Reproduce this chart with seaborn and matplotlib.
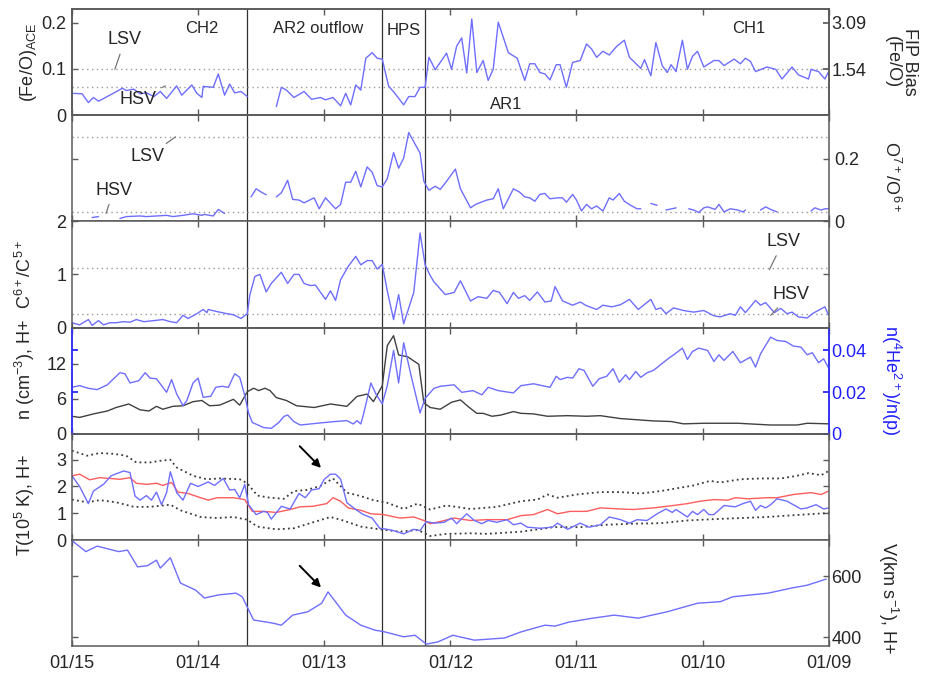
import numpy as np
import pandas as pd
import matplotlib
matplotlib.use("Agg")
import matplotlib.pyplot as plt
import seaborn as sns

# ---------- Data (day of January) ----------

nan = np.nan

feo_t = [15.00, 14.92, 14.87, 14.83, 14.79, 14.70, 14.60, 14.57, 14.51, 14.46, 14.41, 14.35, 14.30, 14.25,
         14.17, 14.13, 14.05, 14.01, 13.97, 13.96, 13.88, 13.84, 13.79, 13.75, 13.71, 13.66, 13.61, 13.50,
         13.38, 13.34, 13.30, 13.24, 13.16, 13.10, 13.03, 12.99, 12.93, 12.87, 12.83, 12.79, 12.75, 12.71,
         12.67, 12.62, 12.58, 12.54, 12.49, 12.44, 12.37, 12.33, 12.28, 12.24, 12.20, 12.17, 12.12, 12.03,
         11.99, 11.95, 11.91, 11.87, 11.83, 11.79, 11.74, 11.70, 11.66, 11.62, 11.54, 11.47, 11.41, 11.37,
         11.33, 11.29, 11.25, 11.21, 11.16, 11.13, 11.08, 11.03, 10.97, 10.92, 10.88, 10.84, 10.79, 10.74,
         10.68, 10.62, 10.58, 10.49, 10.46, 10.41, 10.37, 10.32, 10.28, 10.25, 10.21, 10.16, 10.12, 10.08,
         10.04, 9.99, 9.91, 9.87, 9.83, 9.75, 9.70, 9.66, 9.62, 9.58, 9.49, 9.42, 9.37, 9.29, 9.24, 9.16,
         9.14, 9.08, 9.03, 9.00]
feo_v = [0.047, 0.046, 0.027, 0.038, 0.030, 0.043, 0.058, 0.053, 0.056, 0.046, 0.048, 0.040, 0.051, 0.036,
         0.063, 0.043, 0.065, 0.047, 0.038, 0.062, 0.060, 0.089, 0.043, 0.067, 0.048, 0.051, 0.040, nan,
         0.018, 0.060, 0.054, 0.038, 0.051, 0.034, 0.038, 0.033, 0.038, 0.020, 0.047, 0.022, 0.065, 0.054,
         0.123, 0.135, 0.123, 0.121, 0.063, 0.047, 0.022, 0.040, 0.040, 0.060, 0.060, 0.125, 0.098, 0.134,
         0.099, 0.149, 0.167, 0.091, 0.208, 0.092, 0.118, 0.075, 0.099, 0.201, 0.135, 0.123, 0.075, 0.111,
         0.111, 0.092, 0.089, 0.076, 0.109, 0.109, 0.060, 0.114, 0.118, 0.154, 0.143, 0.125, 0.138, 0.130,
         0.149, 0.162, 0.125, 0.101, 0.120, 0.085, 0.157, 0.107, 0.092, 0.109, 0.094, 0.162, 0.099, 0.127,
         0.138, 0.104, 0.118, 0.118, 0.107, 0.121, 0.111, 0.123, 0.116, 0.094, 0.104, 0.099, 0.078, 0.104,
         0.087, 0.078, 0.099, 0.094, 0.078, 0.094]

oxy_t = [14.84, 14.79, 14.75, 14.62, 14.57, 14.46, 14.41, 14.25, 14.20, 14.12, 14.04, 13.97, 13.95, 13.88,
         13.84, 13.79, 13.70, 13.58, 13.54, 13.49, 13.46, 13.42, 13.38, 13.34, 13.29, 13.25, 13.20, 13.16,
         13.08, 13.04, 12.99, 12.91, 12.87, 12.83, 12.79, 12.75, 12.71, 12.66, 12.62, 12.58, 12.54, 12.50,
         12.45, 12.41, 12.37, 12.33, 12.24, 12.21, 12.17, 12.12, 12.08, 12.03, 11.96, 11.92, 11.84, 11.80,
         11.71, 11.66, 11.62, 11.58, 11.54, 11.50, 11.45, 11.41, 11.37, 11.33, 11.29, 11.25, 11.21, 11.15,
         11.11, 11.08, 11.03, 11.00, 10.96, 10.92, 10.88, 10.84, 10.79, 10.74, 10.71, 10.66, 10.62, 10.57,
         10.52, 10.49, 10.45, 10.41, 10.36, 10.33, 10.29, 10.21, 10.17, 10.11, 10.07, 10.03, 9.99, 9.96,
         9.90, 9.87, 9.83, 9.78, 9.72, 9.68, 9.66, 9.60, 9.54, 9.50, 9.46, 9.41, 9.30, 9.14, 9.11, 9.06,
         9.03, 9.00]
oxy_v = [0.012, 0.015, nan, 0.009, 0.015, 0.017, 0.015, 0.019, 0.015, 0.019, 0.024, 0.019, 0.022, 0.017,
         0.038, 0.025, nan, 0.078, 0.104, 0.091, 0.085, nan, 0.078, 0.091, 0.131, 0.070, 0.068, 0.059,
         0.075, 0.040, 0.075, 0.040, 0.054, 0.125, 0.125, 0.160, 0.110, 0.174, 0.157, 0.114, 0.110, 0.136,
         0.220, 0.170, 0.202, 0.284, 0.218, 0.128, 0.099, 0.112, 0.102, 0.128, 0.167, 0.104, 0.043, 0.054,
         0.068, 0.072, 0.104, 0.040, 0.072, 0.104, 0.093, 0.078, 0.075, 0.064, 0.086, 0.089, 0.072, 0.075,
         0.075, 0.061, 0.086, 0.068, 0.033, 0.054, 0.040, 0.049, 0.033, 0.075, 0.068, 0.089, 0.064, 0.051,
         0.040, 0.040, nan, 0.057, 0.051, nan, 0.036, 0.043, nan, 0.040, 0.036, 0.028, 0.043, 0.046,
         0.038, 0.054, 0.030, 0.040, 0.036, 0.030, 0.036, nan, 0.036, 0.046, 0.038, 0.030, nan, 0.033,
         0.043, 0.036, 0.040, 0.040]

carb_t = [15.00, 14.94, 14.87, 14.84, 14.79, 14.75, 14.70, 14.65, 14.59, 14.54, 14.49, 14.43, 14.35, 14.28,
          14.22, 14.17, 14.12, 14.08, 14.01, 13.96, 13.93, 13.92, 13.85, 13.77, 13.72, 13.66, 13.61, 13.59,
          13.55, 13.51, 13.46, 13.42, 13.34, 13.29, 13.24, 13.20, 13.16, 13.11, 13.07, 12.99, 12.95, 12.91,
          12.87, 12.81, 12.75, 12.71, 12.66, 12.62, 12.58, 12.54, 12.50, 12.45, 12.41, 12.37, 12.29, 12.24,
          12.20, 12.16, 12.13, 12.04, 11.97, 11.92, 11.84, 11.78, 11.71, 11.66, 11.61, 11.55, 11.50, 11.46,
          11.41, 11.37, 11.31, 11.25, 11.20, 11.17, 11.11, 11.03, 10.97, 10.92, 10.84, 10.79, 10.72, 10.65,
          10.58, 10.51, 10.41, 10.37, 10.33, 10.29, 10.23, 10.15, 10.07, 9.99, 9.91, 9.86, 9.78, 9.74,
          9.70, 9.66, 9.58, 9.54, 9.50, 9.43, 9.38, 9.33, 9.29, 9.24, 9.17, 9.13, 9.03, 9.00]
carb_v = [0.09, 0.05, 0.15, 0.04, 0.13, 0.05, 0.09, 0.09, 0.11, 0.10, 0.15, 0.11, 0.13, 0.15,
          0.11, 0.09, 0.23, 0.17, 0.26, 0.34, 0.28, 0.34, 0.30, 0.26, 0.24, 0.17, 0.26, 0.61,
          0.96, 1.00, 0.67, 0.83, 1.04, 0.83, 1.00, 1.00, 0.83, 0.79, 0.80, 0.53, 0.69, 0.51,
          0.90, 1.15, 1.34, 1.18, 1.26, 1.26, 1.10, 1.19, 0.69, 0.15, 0.62, 0.07, 0.66, 1.78,
          1.18, 0.98, 0.86, 0.62, 0.66, 0.88, 0.50, 0.58, 0.55, 0.70, 0.66, 0.45, 0.66, 0.55,
          0.60, 0.51, 0.67, 0.48, 0.50, 0.77, 0.50, 0.42, 0.48, 0.41, 0.34, 0.42, 0.39, 0.43,
          0.53, 0.34, 0.53, 0.34, 0.37, 0.26, 0.37, 0.32, 0.29, 0.32, 0.22, 0.20, 0.26, 0.23,
          0.39, 0.28, 0.51, 0.42, 0.47, 0.28, 0.36, 0.26, 0.29, 0.20, 0.18, 0.26, 0.39, 0.23]

dens_t = [15.00, 14.94, 14.83, 14.72, 14.65, 14.55, 14.46, 14.39, 14.33, 14.28, 14.20, 14.12, 14.04, 13.97,
          13.91, 13.83, 13.72, 13.67, 13.61, 13.56, 13.52, 13.47, 13.43, 13.38, 13.30, 13.22, 13.08, 12.95,
          12.82, 12.74, 12.66, 12.61, 12.54, 12.50, 12.45, 12.41, 12.34, 12.25, 12.21, 12.16, 12.08, 11.99,
          11.92, 11.85, 11.79, 11.74, 11.67, 11.60, 11.50, 11.44, 11.34, 11.23, 11.07, 10.92, 10.81, 10.65,
          10.39, 10.25, 10.15, 9.99, 9.72, 9.46, 9.25, 9.17, 9.00]
dens_v = [3.0, 2.8, 3.4, 3.9, 4.5, 5.1, 4.1, 3.9, 4.7, 4.2, 4.7, 4.8, 5.5, 5.7,
          4.8, 4.9, 5.9, 4.9, 7.2, 7.8, 7.4, 7.8, 7.4, 6.2, 5.7, 4.8, 4.5, 5.1,
          4.7, 6.4, 6.8, 5.5, 8.2, 15.1, 16.8, 13.5, 13.2, 11.9, 5.3, 4.5, 4.2, 5.4,
          5.8, 4.5, 3.5, 3.5, 3.0, 3.2, 3.8, 3.5, 3.4, 3.0, 3.1, 3.0, 3.1, 2.6,
          2.2, 2.1, 1.7, 1.8, 1.8, 1.5, 1.5, 1.8, 1.7]

alpha_t = [15.00, 14.94, 14.87, 14.80, 14.72, 14.62, 14.58, 14.54, 14.47, 14.42, 14.38, 14.33, 14.25, 14.21,
           14.17, 14.12, 14.09, 14.04, 14.00, 13.96, 13.90, 13.86, 13.81, 13.76, 13.71, 13.67, 13.63, 13.60,
           13.57, 13.48, 13.42, 13.36, 13.32, 13.29, 13.24, 13.19, 13.03, 12.93, 12.82, 12.77, 12.74, 12.71,
           12.69, 12.63, 12.59, 12.54, 12.50, 12.45, 12.41, 12.37, 12.31, 12.24, 12.20, 12.13, 12.08, 11.97,
           11.91, 11.82, 11.75, 11.70, 11.62, 11.50, 11.44, 11.34, 11.21, 11.16, 11.13, 11.07, 11.03, 10.98,
           10.94, 10.87, 10.82, 10.76, 10.71, 10.66, 10.61, 10.58, 10.53, 10.49, 10.44, 10.39, 10.28, 10.20,
           10.16, 10.12, 10.08, 10.03, 9.96, 9.91, 9.87, 9.83, 9.76, 9.70, 9.62, 9.58, 9.54, 9.46, 9.41,
           9.34, 9.28, 9.22, 9.17, 9.13, 9.08, 9.04, 9.00]
alpha_v = [0.0223, 0.0231, 0.0218, 0.0212, 0.0235, 0.0293, 0.0288, 0.0244, 0.0255, 0.0293, 0.0267, 0.0264,
           0.0199, 0.0260, 0.0191, 0.0135, 0.0159, 0.0244, 0.0267, 0.0175, 0.0180, 0.0223, 0.0228, 0.0223,
           0.0288, 0.0271, 0.0183, 0.0100, 0.0054, 0.0030, 0.0026, 0.0054, 0.0083, 0.0090, 0.0058, 0.0042,
           0.0052, 0.0058, 0.0063, 0.0047, 0.0063, 0.0047, 0.0090, 0.0244, 0.0191, 0.0143, 0.0231, 0.0400,
           0.0244, 0.0437, 0.0276, 0.0100, 0.0170, 0.0218, 0.0228, 0.0235, 0.0199, 0.0207, 0.0187, 0.0223,
           0.0207, 0.0196, 0.0231, 0.0240, 0.0223, 0.0276, 0.0260, 0.0271, 0.0267, 0.0312, 0.0304, 0.0228,
           0.0264, 0.0276, 0.0312, 0.0247, 0.0283, 0.0260, 0.0299, 0.0271, 0.0293, 0.0304, 0.0357, 0.0392,
           0.0411, 0.0357, 0.0395, 0.0411, 0.0400, 0.0347, 0.0379, 0.0352, 0.0395, 0.0341, 0.0368, 0.0320,
           0.0384, 0.0464, 0.0448, 0.0443, 0.0421, 0.0416, 0.0379, 0.0389, 0.0341, 0.0360, 0.0315]

temp_t = [15.00, 14.94, 14.87, 14.83, 14.75, 14.69, 14.59, 14.54, 14.50, 14.46, 14.41, 14.37, 14.33, 14.29,
          14.25, 14.22, 14.17, 14.12, 14.06, 14.00, 13.92, 13.87, 13.80, 13.75, 13.71, 13.67, 13.63, 13.60,
          13.54, 13.48, 13.45, 13.42, 13.34, 13.27, 13.20, 13.15, 13.10, 13.04, 13.00, 12.95, 12.91, 12.87,
          12.82, 12.75, 12.69, 12.62, 12.56, 12.50, 12.45, 12.37, 12.29, 12.24, 12.19, 12.13, 12.05, 11.99,
          11.95, 11.87, 11.81, 11.75, 11.70, 11.63, 11.55, 11.50, 11.44, 11.39, 11.29, 11.19, 11.15, 11.07,
          10.97, 10.90, 10.81, 10.74, 10.65, 10.58, 10.52, 10.44, 10.36, 10.29, 10.24, 10.21, 10.12, 10.08,
          10.04, 9.99, 9.95, 9.91, 9.83, 9.74, 9.68, 9.62, 9.58, 9.54, 9.50, 9.46, 9.41, 9.33, 9.22, 9.17,
          9.10, 9.04, 9.00]
temp_v = [2.40, 2.00, 1.36, 1.83, 2.08, 2.40, 2.58, 2.52, 1.64, 1.49, 1.66, 1.49, 1.79, 1.32,
          1.77, 2.55, 1.77, 1.49, 2.12, 2.00, 2.17, 2.04, 2.30, 1.87, 1.89, 1.58, 2.08, 1.32,
          0.95, 1.07, 1.03, 0.78, 1.26, 1.16, 1.74, 1.58, 1.87, 1.92, 2.27, 2.46, 2.46, 2.27,
          1.39, 1.14, 0.95, 0.82, 0.44, 0.40, 0.35, 0.23, 0.40, 0.35, 0.69, 0.63, 0.66, 0.82,
          0.61, 0.98, 0.73, 0.61, 0.73, 0.66, 0.76, 0.57, 0.63, 0.48, 0.44, 0.48, 0.63, 0.40,
          0.63, 0.48, 0.57, 0.86, 0.76, 0.63, 0.76, 0.73, 0.98, 1.16, 1.03, 1.14, 0.86, 1.07,
          0.95, 1.14, 0.95, 0.95, 1.29, 1.24, 1.36, 1.45, 1.11, 1.29, 1.20, 1.32, 1.54, 1.45, 1.16, 1.20,
          1.32, 1.16, 1.20]

texp_t = [15.00, 14.94, 14.86, 14.78, 14.70, 14.62, 14.54, 14.49, 14.41, 14.33, 14.28, 14.21, 14.16, 14.08,
          13.98, 13.92, 13.85, 13.72, 13.63, 13.57, 13.48, 13.38, 13.27, 13.19, 13.09, 12.98, 12.93, 12.87,
          12.81, 12.71, 12.63, 12.53, 12.40, 12.29, 12.21, 12.16, 12.08, 11.97, 11.84, 11.71, 11.55, 11.44,
          11.34, 11.23, 11.15, 11.05, 10.92, 10.81, 10.65, 10.55, 10.39, 10.23, 10.12, 10.02, 9.91, 9.80,
          9.74, 9.64, 9.49, 9.41, 9.28, 9.14, 9.06, 9.00]
texp_v = [2.40, 2.46, 2.25, 2.33, 2.30, 2.27, 2.33, 2.12, 2.08, 2.12, 2.04, 2.15, 1.79, 1.74,
          1.58, 1.49, 1.58, 1.58, 1.51, 1.07, 1.07, 1.03, 1.14, 1.24, 1.26, 1.36, 1.58, 1.45,
          1.20, 1.11, 0.98, 0.95, 0.82, 0.86, 0.73, 0.61, 0.69, 0.82, 0.73, 0.76, 0.76, 0.91,
          0.95, 1.14, 0.98, 1.07, 1.07, 1.20, 1.16, 1.14, 1.20, 1.29, 1.36, 1.45, 1.51, 1.49,
          1.58, 1.54, 1.58, 1.58, 1.70, 1.77, 1.70, 1.83]

thi_t = [15.00, 14.88, 14.78, 14.67, 14.57, 14.49, 14.38, 14.30, 14.22, 14.17, 14.04, 13.93, 13.83, 13.67,
         13.61, 13.53, 13.43, 13.32, 13.24, 13.14, 13.03, 12.93, 12.82, 12.71, 12.61, 12.50, 12.37, 12.26,
         12.16, 12.03, 11.84, 11.63, 11.44, 11.31, 11.23, 11.15, 11.00, 10.81, 10.65, 10.49, 10.33, 10.17,
         10.07, 9.94, 9.86, 9.70, 9.54, 9.38, 9.25, 9.16, 9.06, 9.00]
thi_v = [3.34, 3.15, 3.25, 3.22, 3.15, 2.90, 2.90, 2.96, 3.00, 2.71, 2.40, 2.27, 2.30, 2.27,
         2.12, 1.66, 1.58, 1.54, 1.83, 1.87, 2.02, 2.30, 1.77, 1.64, 1.49, 1.39, 1.16, 1.36,
         1.14, 1.29, 1.16, 1.24, 1.45, 1.51, 1.70, 1.58, 1.70, 1.79, 1.79, 1.74, 1.83, 1.96,
         2.04, 2.21, 2.15, 2.27, 2.30, 2.30, 2.40, 2.50, 2.42, 2.58]

tlo_t = [15.00, 14.88, 14.78, 14.65, 14.51, 14.38, 14.22, 14.14, 13.98, 13.85, 13.72, 13.61, 13.53, 13.38,
         13.24, 13.11, 12.95, 12.85, 12.71, 12.56, 12.40, 12.26, 12.16, 12.03, 11.84, 11.71, 11.44, 11.18,
         10.97, 10.76, 10.55, 10.33, 10.12, 9.91, 9.70, 9.49, 9.33, 9.20, 9.00]
tlo_v = [1.51, 1.41, 1.49, 1.41, 1.24, 1.24, 1.32, 1.11, 0.86, 0.82, 0.86, 0.76, 0.50, 0.40,
         0.44, 0.63, 0.86, 0.73, 0.50, 0.40, 0.31, 0.38, 0.15, 0.23, 0.25, 0.23, 0.31, 0.48,
         0.48, 0.57, 0.61, 0.63, 0.73, 0.78, 0.82, 0.86, 0.91, 0.95, 1.01]

vel_t = [15.00, 14.89, 14.80, 14.63, 14.56, 14.48, 14.40, 14.33, 14.30, 14.22, 14.14, 14.02, 13.95, 13.84,
         13.70, 13.65, 13.56, 13.41, 13.34, 13.25, 13.13, 13.02, 12.97, 12.83, 12.71, 12.60, 12.52, 12.37,
         12.28, 12.19, 12.10, 11.98, 11.81, 11.57, 11.44, 11.25, 11.17, 11.06, 10.87, 10.70, 10.51, 10.28,
         10.04, 9.86, 9.76, 9.48, 9.29, 9.17, 9.02]
vel_v = [716, 680, 698, 680, 685, 630, 634, 652, 626, 660, 577, 554, 528, 538,
         544, 532, 456, 446, 439, 472, 483, 511, 548, 472, 439, 423, 417, 401,
         406, 377, 384, 406, 390, 397, 417, 439, 436, 449, 462, 472, 462, 483,
         511, 516, 532, 544, 561, 570, 590]

boundaries = [13.61, 12.54, 12.20]
day_ticks = [15, 14, 13, 12, 11, 10, 9]
day_labels = ["01/15", "01/14", "01/13", "01/12", "01/11", "01/10", "01/09"]
fip_scale = 0.0647  # Fe/O photospheric reference

# ---------- Style ----------

sns.set_theme(style="white")
plt.rcParams["font.family"] = ["Liberation Sans", "DejaVu Sans"]
plt.rcParams["mathtext.default"] = "regular"
plt.rcParams["font.size"] = 13

BLUE = "#6e6eff"
RED = "#ff5c5c"
DARK = "#404040"
FRAME = "#5a5a5a"


def draw(ax, t, v, color, lw=1.0, dashes=None):
    df = pd.DataFrame({"t": t, "v": v})
    ok = df["v"].notna()
    seg = (~ok).cumsum()
    for _, part in df[ok].groupby(seg[ok]):
        line = sns.lineplot(data=part, x="t", y="v", ax=ax, color=color, lw=lw,
                            estimator=None, sort=False, legend=False)
        if dashes is not None:
            line.lines[-1].set_dashes(dashes)
    ax.set_xlabel("")
    ax.set_ylabel("")


def threshold(ax, y):
    ax.axhline(y, color="#9a9a9a", lw=1.0, dashes=(1, 2.5))


def leader(ax, text, xytext, xy):
    ax.annotate(text, xy=xy, xytext=xytext, ha="center", va="center", fontsize=13,
                arrowprops=dict(arrowstyle="-", color="#777777", lw=0.9, shrinkA=2, shrinkB=0))


fig, axes = plt.subplots(6, 1, sharex=True, figsize=(9.29, 6.76), dpi=100)
fig.subplots_adjust(left=0.0775, right=0.892, top=0.987, bottom=0.044, hspace=0)

for ax in axes:
    for sp in ax.spines.values():
        sp.set_color(FRAME)
        sp.set_linewidth(1.1)
    ax.tick_params(axis="both", direction="in", length=4, width=1, color=FRAME,
                   top=True, bottom=True, left=True, right=True, labelsize=13, pad=4)
    ax.tick_params(axis="x", labelbottom=False)
    for b in boundaries:
        ax.axvline(b, color="#303030", lw=0.9, zorder=1)

ax1, ax2, ax3, ax4, ax5, ax6 = axes

# Panel 1: Fe/O
threshold(ax1, 0.1)
threshold(ax1, 0.06)
draw(ax1, feo_t, feo_v, BLUE)
ax1.set_ylim(0, 0.23)
ax1.set_yticks([0, 0.1, 0.2])
ax1.set_yticklabels(["0", "0.1", "0.2"])
ax1.tick_params(axis="y", right=False)
ax1r = ax1.twinx()
ax1r.set_ylim(0, 0.23 / fip_scale)
ax1r.set_yticks([1.54, 3.09])
ax1r.set_yticklabels(["1.54", "3.09"])
ax1r.tick_params(axis="y", direction="in", length=4, color=FRAME, labelsize=13, pad=2)
for sp in ax1r.spines.values():
    sp.set_color(FRAME)
ax1.text(-0.058, 0.5, "(Fe/O)$_{ACE}$", transform=ax1.transAxes, rotation=90,
         ha="center", va="center", fontsize=13)
ax1.text(1.095, 0.5, "FIP Bias\n(Fe/O)", transform=ax1.transAxes, rotation=270,
         ha="center", va="center", fontsize=13, linespacing=1.0)
leader(ax1, "LSV", (14.58, 0.163), (14.66, 0.099))
leader(ax1, "HSV", (14.48, 0.033), (14.26, 0.063))
ax1.text(13.97, 0.187, "CH2", ha="center", va="center", fontsize=12)
ax1.text(13.05, 0.187, "AR2 outflow", ha="center", va="center", fontsize=12)
ax1.text(12.37, 0.182, "HPS", ha="center", va="center", fontsize=12)
ax1.text(11.56, 0.022, "AR1", ha="center", va="center", fontsize=12)
ax1.text(9.63, 0.187, "CH1", ha="center", va="center", fontsize=12)

# Panel 2: O7+/O6+
threshold(ax2, 0.27)
threshold(ax2, 0.029)
draw(ax2, oxy_t, oxy_v, BLUE)
ax2.set_ylim(0, 0.34)
ax2.set_yticks([0, 0.2])
ax2.set_yticklabels(["0", "0.2"])
ax2.tick_params(axis="y", labelleft=False, labelright=True)
ax2.text(1.083, 0.42, "O$^{7+}$/O$^{6+}$", transform=ax2.transAxes, rotation=270,
         ha="center", va="center", fontsize=13)
leader(ax2, "LSV", (14.40, 0.206), (14.18, 0.27))
leader(ax2, "HSV", (14.67, 0.10), (14.73, 0.025))

# Panel 3: C6+/C5+
threshold(ax3, 1.12)
threshold(ax3, 0.25)
draw(ax3, carb_t, carb_v, BLUE)
ax3.set_ylim(0, 2)
ax3.set_yticks([0, 1, 2])
ax3.set_yticklabels(["0", "1", "2"])
ax3.text(-0.062, 0.5, "C$^{6+}$/C$^{5+}$", transform=ax3.transAxes, rotation=90,
         ha="center", va="center", fontsize=13)
leader(ax3, "LSV", (9.36, 1.62), (9.47, 1.09))
leader(ax3, "HSV", (9.30, 0.63), (9.46, 0.23))

# Panel 4: densities
draw(ax4, dens_t, dens_v, DARK)
ax4.set_ylim(0, 18.2)
ax4.set_yticks([0, 6, 12])
ax4.set_yticklabels(["0", "6", "12"])
ax4.tick_params(axis="y", right=False)
ax4r = ax4.twinx()
draw(ax4r, alpha_t, alpha_v, BLUE)
ax4r.set_ylim(0, 0.051)
ax4r.set_yticks([0, 0.02, 0.04])
ax4r.set_yticklabels(["0", "0.02", "0.04"])
ax4r.tick_params(axis="y", direction="in", length=4, left=True, right=True,
                 labelleft=False, labelright=True, colors="#2020ff", labelsize=13, pad=2)
for side, sp in ax4r.spines.items():
    sp.set_color("#3030ff" if side in ("left", "right") else FRAME)
ax4.text(-0.062, 0.6, "n (cm$^{-3}$), H+", transform=ax4.transAxes, rotation=90,
         ha="center", va="center", fontsize=13)
ax4.text(1.083, 0.5, "n($^{4}$He$^{2+}$)/n(p)", transform=ax4.transAxes, rotation=270,
         ha="center", va="center", fontsize=13, color="#2020ff")

# Panel 5: temperature
draw(ax5, thi_t, thi_v, "#3a3a3a", lw=1.3, dashes=(1, 1.8))
draw(ax5, tlo_t, tlo_v, "#3a3a3a", lw=1.3, dashes=(1, 1.8))
draw(ax5, texp_t, texp_v, RED)
draw(ax5, temp_t, temp_v, BLUE)
ax5.set_ylim(0, 3.97)
ax5.set_yticks([0, 1, 2, 3])
ax5.set_yticklabels(["0", "1", "2", "3"])
ax5.text(-0.062, 0.33, "T(10$^5$ K), H+", transform=ax5.transAxes, rotation=90,
         ha="center", va="center", fontsize=13)
ax5.annotate("", xy=(13.01, 2.62), xytext=(13.21, 3.58),
             arrowprops=dict(arrowstyle="-|>", color="black", lw=1.4, mutation_scale=12))

# Panel 6: speed
draw(ax6, vel_t, vel_v, BLUE)
ax6.set_ylim(370, 718)
ax6.set_yticks([400, 600])
ax6.set_yticklabels(["400", "600"])
ax6.tick_params(axis="y", labelleft=False, labelright=True, pad=2)
ax6.text(1.078, 0.46, "V(km s$^{-1}$), H+", transform=ax6.transAxes, rotation=270,
         ha="center", va="center", fontsize=13)
ax6.annotate("", xy=(13.01, 556), xytext=(13.21, 640),
             arrowprops=dict(arrowstyle="-|>", color="black", lw=1.4, mutation_scale=12))

ax6.set_xlim(15, 9)
ax6.set_xticks(day_ticks)
ax6.set_xticklabels(day_labels)
ax6.tick_params(axis="x", labelbottom=True, labelsize=13, pad=6)

fig.savefig("out.png", dpi=100)
